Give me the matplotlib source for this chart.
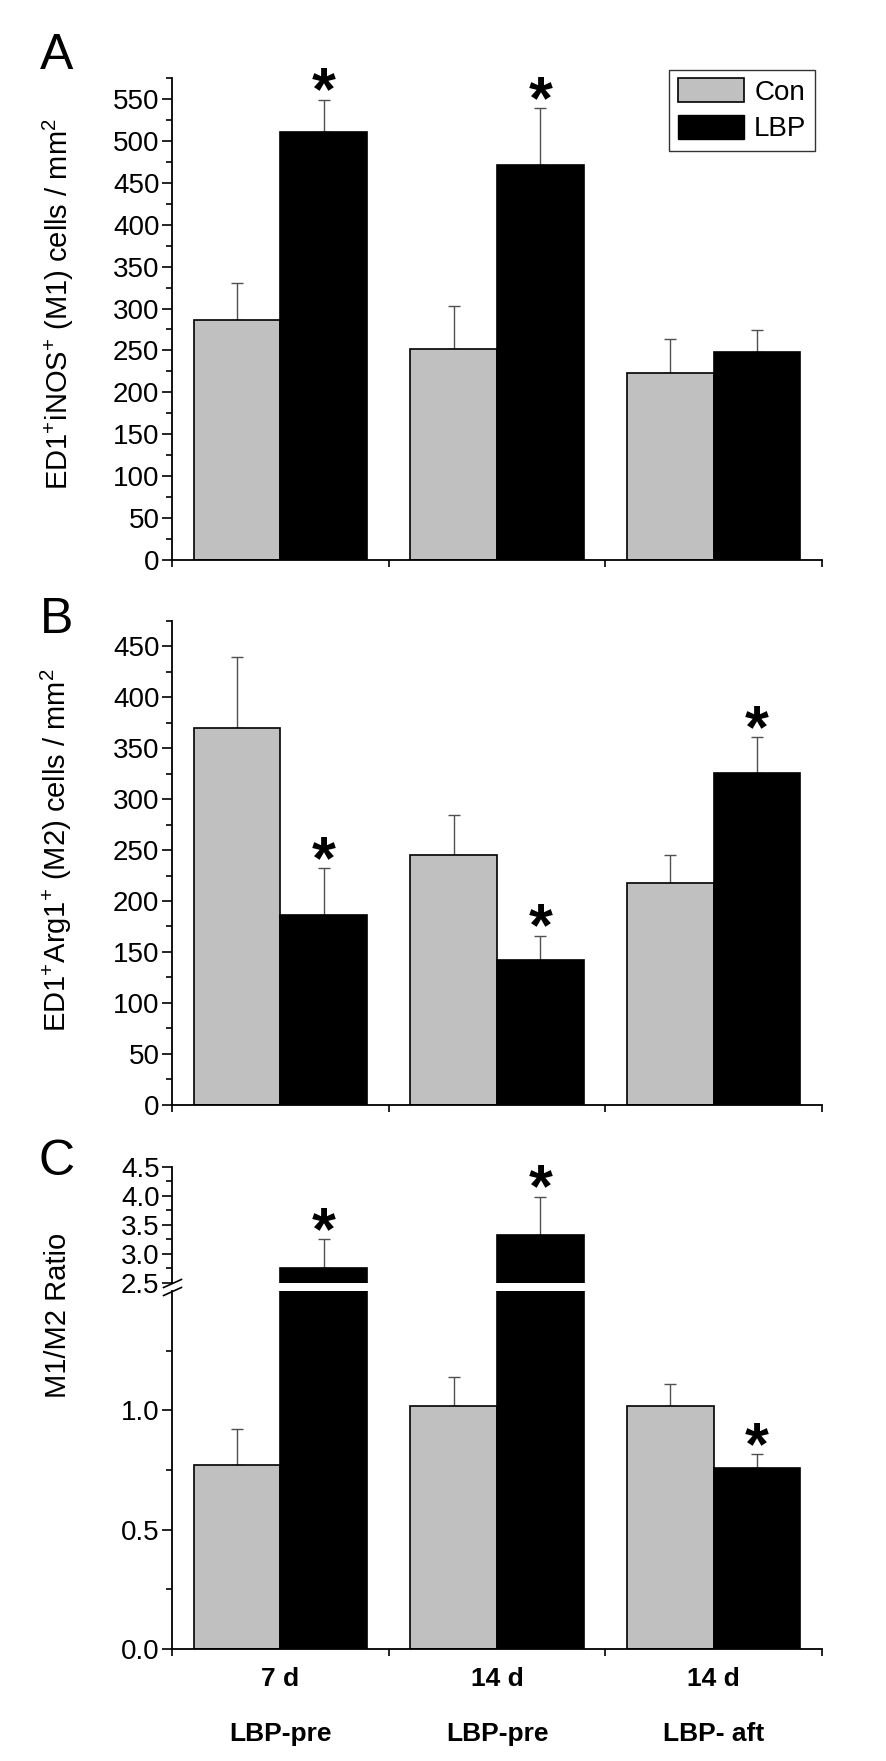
import matplotlib
matplotlib.use('Agg')
import matplotlib.pyplot as plt
from matplotlib.patches import Patch
from matplotlib import font_manager
import numpy as np

# data
days = ['7 d', '14 d', '14 d']
groups = ['LBP-pre', 'LBP-pre', 'LBP- aft']

m1_con = [286, 252, 223]
m1_con_err = [45, 51, 41]
m1_lbp = [510, 471, 248]
m1_lbp_err = [39, 68, 26]
m1_sig = [True, True, False]

m2_con = [370, 245, 218]
m2_con_err = [70, 39, 27]
m2_lbp = [186, 142, 326]
m2_lbp_err = [46, 24, 35]
m2_sig = [True, True, True]

ratio_con = [0.77, 1.02, 1.02]
ratio_con_err = [0.15, 0.12, 0.09]
ratio_lbp = [2.76, 3.33, 0.76]
ratio_lbp_err = [0.49, 0.65, 0.055]
ratio_sig = [True, True, True]

names = {f.name for f in font_manager.fontManager.ttflist}
narrow = 'Liberation Sans Narrow' if 'Liberation Sans Narrow' in names else 'Liberation Sans'

plt.rcParams['font.family'] = ['Liberation Sans', 'DejaVu Sans']
plt.rcParams['mathtext.default'] = 'regular'
plt.rcParams['axes.linewidth'] = 1.3

GRAY = '#c0c0c0'
ERRC = '#505050'
W = 0.4
x = np.arange(3) + 0.5

fig = plt.figure(figsize=(8.86, 17.61), dpi=100)
H = 1761.0
WID = 886.0
left = 172 / WID
width = 650 / WID


def make_ax(top_px, bot_px):
    return fig.add_axes([left, 1 - bot_px / H, width, (bot_px - top_px) / H])


def style(ax, ymax, major, minor, xaxis=True, fs=20):
    ax.spines['top'].set_visible(False)
    ax.spines['right'].set_visible(False)
    ax.set_xlim(0, 3)
    ax.set_ylim(0 if ymax > 10 else ax.get_ylim()[0], ymax)
    ax.set_yticks(major)
    ax.set_yticks(minor, minor=True)
    ax.tick_params(axis='y', which='major', direction='out', length=7, width=1.2, pad=2, labelsize=fs)
    ax.tick_params(axis='y', which='minor', direction='out', length=4, width=1.2)
    if xaxis:
        ax.set_xticks([0, 1, 2, 3])
        ax.set_xticklabels([])
        ax.tick_params(axis='x', which='major', direction='out', length=5, width=1.2)
    else:
        ax.spines['bottom'].set_visible(False)
        ax.set_xticks([])


def bars(ax, con, con_err, lbp, lbp_err, lo=None):
    ax.bar(x - W / 2, con, W, color=GRAY, edgecolor='black', linewidth=1.2, zorder=2)
    ax.bar(x + W / 2, lbp, W, color='black', edgecolor='black', linewidth=1.2, zorder=2)
    for xs, v, e in [(x - W / 2, con, con_err), (x + W / 2, lbp, lbp_err)]:
        for xi, vi, ei in zip(xs, v, e):
            if lo is not None and not (lo[0] <= vi <= lo[1]):
                continue
            ax.errorbar(xi, vi, yerr=[[0], [ei]], fmt='none', ecolor=ERRC,
                        elinewidth=1.0, capsize=4, capthick=1.0, zorder=1)


def stars(ax, vals, errs, sig, lo=None):
    for xi, v, e, s in zip(x + W / 2, vals, errs, sig):
        if not s:
            continue
        if lo is not None and not (lo[0] <= v <= lo[1]):
            continue
        ax.annotate('*', xy=(xi, v + e), xytext=(0, -7), textcoords='offset points',
                    ha='center', va='baseline', fontsize=44, fontweight='bold')


# Panel A
axA = make_ax(78, 560)
bars(axA, m1_con, m1_con_err, m1_lbp, m1_lbp_err)
stars(axA, m1_lbp, m1_lbp_err, m1_sig)
style(axA, 575, np.arange(0, 551, 50), np.arange(25, 576, 50))
axA.legend(handles=[Patch(facecolor=GRAY, edgecolor='black', linewidth=1.2, label='Con'),
                    Patch(facecolor='black', edgecolor='black', label='LBP')],
           loc='upper right', bbox_to_anchor=(0.989, 1.017), fontsize=20, frameon=True,
           fancybox=False, edgecolor='#333333', framealpha=1, handlelength=2.4,
           handleheight=0.95, labelspacing=0.33, borderpad=0.3, handletextpad=0.35,
           borderaxespad=0)
axA.get_legend().get_frame().set_linewidth(1.0)

# Panel B
axB = make_ax(621, 1104.6)
bars(axB, m2_con, m2_con_err, m2_lbp, m2_lbp_err)
stars(axB, m2_lbp, m2_lbp_err, m2_sig)
style(axB, 475, np.arange(0, 451, 50), np.arange(25, 476, 50))

# Panel C, broken axis
axCt = make_ax(1166.7, 1282.7)
axCb = make_ax(1291, 1649)
axCt.set_ylim(2.5, 4.5)
bars(axCt, ratio_con, ratio_con_err, ratio_lbp, ratio_lbp_err, lo=(2.5, 4.5))
stars(axCt, ratio_lbp, ratio_lbp_err, ratio_sig, lo=(2.5, 4.5))
style(axCt, 4.5, [2.5, 3.0, 3.5, 4.0, 4.5], [2.75, 3.25, 3.75, 4.25], xaxis=False)
axCt.set_yticklabels(['2.5', '3.0', '3.5', '4.0', '4.5'])

bars(axCb, ratio_con, ratio_con_err, ratio_lbp, ratio_lbp_err, lo=(0, 1.5))
stars(axCb, ratio_lbp, ratio_lbp_err, ratio_sig, lo=(0, 1.5))
style(axCb, 1.5, [0, 0.5, 1.0], [0.25, 0.75, 1.25])
axCb.set_yticklabels(['0.0', '0.5', '1.0'], family=narrow, fontsize=20)

# break marks
kw = dict(marker=[(-1, -0.45), (1, 0.45)], markersize=14, linestyle='none',
          color='black', mec='black', mew=1.2, clip_on=False)
axCt.plot([0], [0], transform=axCt.transAxes, **kw)
axCb.plot([0], [1], transform=axCb.transAxes, **kw)

# category labels
axCb.set_xticks(x, minor=True)
axCb.set_xticklabels(days, minor=True, fontsize=19, fontweight='bold', family=narrow)
axCb.tick_params(axis='x', which='minor', length=0, pad=13)
for xi, g in zip(x, groups):
    axCb.annotate(g, xy=(xi, 0), xycoords=('data', 'axes fraction'), xytext=(0, -61),
                  textcoords='offset points', ha='center', va='center', fontsize=19,
                  fontweight='bold', family=narrow)

# y labels and panel letters
fig.text(58 / WID, 1 - 304 / H, r'ED1$^{+}$iNOS$^{+}$ (M1) cells / mm$^{2}$', rotation=90,
         ha='center', va='center', fontsize=21)
fig.text(56 / WID, 1 - 850 / H, r'ED1$^{+}$Arg1$^{+}$ (M2) cells / mm$^{2}$', rotation=90,
         ha='center', va='center', fontsize=21)
fig.text(58 / WID, 1 - 1315 / H, 'M1/M2 Ratio', rotation=90,
         ha='center', va='center', fontsize=21)
for lab, ypx in [('A', 56), ('B', 620), ('C', 1162)]:
    fig.text(57 / WID, 1 - ypx / H, lab, ha='center', va='center', fontsize=36)

fig.savefig('out.png', dpi=100)
